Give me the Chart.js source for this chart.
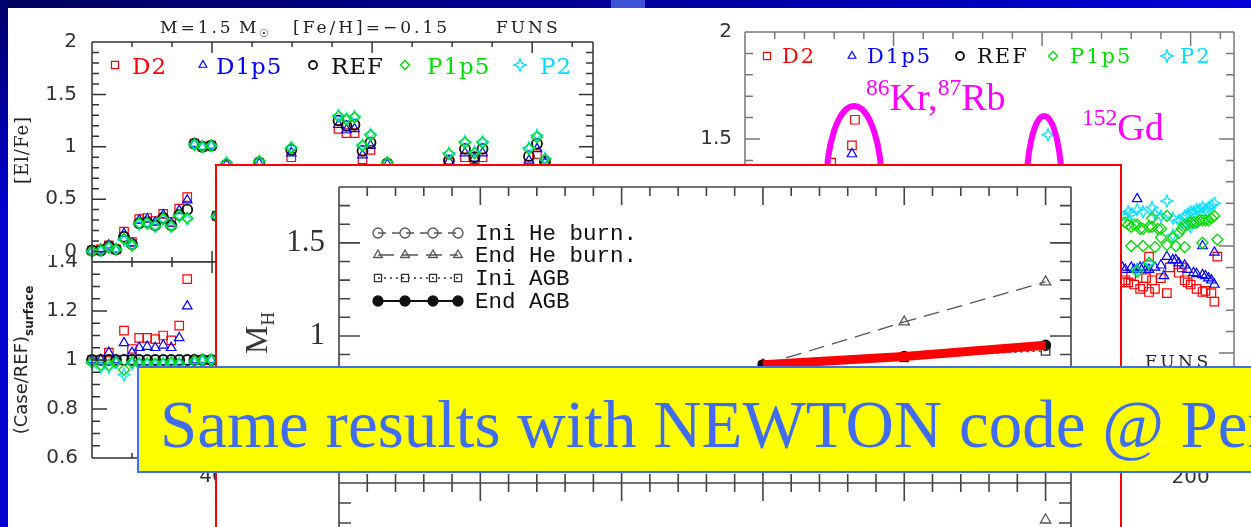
<!DOCTYPE html>
<html>
<head>
<meta charset="utf-8">
<title>FUNS vs NEWTON</title>
<script src="https://cdn.jsdelivr.net/npm/chart.js@4.4.1/dist/chart.umd.min.js"></script>
<style>
  html, body { margin: 0; padding: 0; }
  body {
    position: relative;
    width: 1251px;
    height: 527px;
    overflow: hidden;
    background: #fff;
  }
  canvas, .txt, .inset, .banner, .bar { position: absolute; }
  .txt { white-space: nowrap; line-height: 1; margin: 0; }
  .serif { font-family: 'DejaVu Serif', serif; }
  .sans { font-family: 'DejaVu Sans', sans-serif; }
  .ttl { font-family: 'DejaVu Serif', serif; font-size: 17px; letter-spacing: 3px; color: #222; top: 19px; }
  .legL { font-family: 'DejaVu Serif', serif; font-size: 23px; letter-spacing: 1px; top: 55px; }
  .legR { font-family: 'DejaVu Serif', serif; font-size: 21px; letter-spacing: 2px; top: 46px; }
  .red { color: #ff0000; } .blue { color: #0000ff; } .black { color: #111; }
  .green { color: #00dd00; } .cyan { color: #00dcff; }
  .rot { transform: translate(-50%, -50%) rotate(-90deg); }
  .lo { position: relative; top: 6px; }
  .hi { position: relative; top: -0.62em; font-size: 0.62em; }
  .mag { font-family: 'Liberation Serif', serif; font-size: 38px; color: #ff00ff; }
  .key { font-family: 'Liberation Mono', monospace; font-size: 22.5px; color: #111; left: 475px; }
  .inset { left: 215px; top: 164px; width: 903px; height: 400px; background: #fff; border: 2px solid #ff0000; }
  .banner { left: 137px; top: 366px; width: 1200px; height: 103px; background: #ffff00; border: 2px solid #3d6df2; overflow: hidden; }
  .banner span {
    position: absolute; left: 21px; top: 23px; line-height: 1; white-space: nowrap;
    font-family: 'Liberation Serif', serif; font-size: 67px; color: #3f6cf3;
  }
  .bar-top { left: 0; top: 0; width: 1251px; height: 8px; background: linear-gradient(to right, #00005e, #0000d8); }
  .bar-left { left: 0; top: 0; width: 8px; height: 527px; background: linear-gradient(to bottom, #00006a, #0000d0 40%, #0000d0); }
  .tab { left: 611px; top: 0; width: 34px; height: 8px; background: #3f55d8; }
</style>
</head>
<body>

<canvas id="elfe" width="600" height="262" style="left:0;top:0"></canvas>
<canvas id="ratio" width="600" height="240" style="left:0;top:255px"></canvas>
<canvas id="right" width="571" height="500" style="left:680px;top:0"></canvas>

<div class="txt ttl" style="left:160px">M=1.5</div>
<div class="txt ttl" style="left:239px">M<span style="font-size:11px;position:relative;top:4px;letter-spacing:0">☉</span></div>
<div class="txt ttl" style="left:293px">[Fe/H]=−0.15</div>
<div class="txt ttl" style="left:496px">FUNS</div>
<div class="txt legL red" style="left:132px">D2</div>
<div class="txt legL blue" style="left:216px">D1p5</div>
<div class="txt legL black" style="left:331px">REF</div>
<div class="txt legL green" style="left:427px">P1p5</div>
<div class="txt legL cyan" style="left:540px">P2</div>
<div class="txt serif rot" style="left:22px;top:150px;font-size:18px;letter-spacing:1px;color:#222">[El/Fe]</div>
<div class="txt sans rot" style="left:21px;top:360px;font-size:18px;color:#222">(Case/REF)<span class="lo" style="font-size:12px;font-weight:bold">surface</span></div>

<div class="txt legR red" style="left:782px">D2</div>
<div class="txt legR blue" style="left:867px">D1p5</div>
<div class="txt legR black" style="left:977px">REF</div>
<div class="txt legR green" style="left:1070px">P1p5</div>
<div class="txt legR cyan" style="left:1180px">P2</div>
<div class="txt mag" style="left:866px;top:78px"><span class="hi">86</span>Kr,<span class="hi">87</span>Rb</div>
<div class="txt mag" style="left:1082px;top:108px"><span class="hi">152</span>Gd</div>
<div class="txt serif" style="left:1145px;top:353px;font-size:17px;letter-spacing:3.5px;color:#222">FUNS</div>

<div class="inset"></div>
<canvas id="mh" width="906" height="319" style="left:215px;top:164px"></canvas>
<canvas id="mhLow" width="906" height="250" style="left:215px;top:483px"></canvas>
<div class="txt key" style="top:223px">Ini He burn.</div>
<div class="txt key" style="top:245px">End He burn.</div>
<div class="txt key" style="top:268px">Ini AGB</div>
<div class="txt key" style="top:291px">End AGB</div>
<div class="txt rot" style="left:256px;top:333px;font-family:'Liberation Serif',serif;font-size:32px;color:#333">M<span style="font-size:19px;position:relative;top:7px">H</span></div>

<div class="banner"><span>Same results with NEWTON code @ Perugia</span></div>

<div class="bar bar-top"></div>
<div class="bar bar-left"></div>
<div class="bar tab"></div>

<script>
// [El/Fe] at the surface, left upper panel (mass number A)
const massTop = [25, 26.1, 27.1, 28, 29, 30, 30.9, 31.9, 32.9, 33.9, 34.9, 35.9, 36.9, 37.8, 38.8,
  39.9, 40.6, 41.8, 45.9, 49.9, 55.8, 56.8, 57.8, 58.8, 59.8, 61.9, 69.6, 71.6, 72.8, 73.8, 79.6, 80.6, 81.6];
const topD2 = [0.01, 0.02, 0.06, 0.02, 0.19, 0.09, 0.31, 0.32, 0.29, 0.36, 0.28, 0.41, 0.52, 1.03, 1.00,
  1.01, 0.34, 0.82, 0.84, 0.90, 1.17, 1.13, 1.13, 0.88, 0.97, 0.83, 0.85, 0.90, 0.88, 0.90, 0.83, 0.93, 0.84];
const topD1p5 = [0.01, 0.02, 0.06, 0.02, 0.17, 0.08, 0.30, 0.31, 0.28, 0.35, 0.27, 0.39, 0.49, 1.03, 1.00,
  1.01, 0.34, 0.83, 0.84, 0.94, 1.21, 1.16, 1.17, 0.92, 1.01, 0.83, 0.86, 0.94, 0.89, 0.94, 0.87, 0.98, 0.85];
const topREF = [0.01, 0.01, 0.05, 0.02, 0.14, 0.07, 0.27, 0.28, 0.25, 0.32, 0.25, 0.35, 0.40, 1.03, 1.00,
  1.01, 0.34, 0.83, 0.85, 0.97, 1.25, 1.20, 1.21, 0.96, 1.04, 0.84, 0.87, 0.98, 0.90, 0.98, 0.91, 1.03, 0.86];
const topP1p5 = [0.00, 0.01, 0.04, 0.02, 0.12, 0.06, 0.27, 0.27, 0.24, 0.31, 0.24, 0.34, 0.32, 1.02, 1.00,
  1.01, 0.34, 0.84, 0.86, 0.99, 1.29, 1.26, 1.28, 1.01, 1.11, 0.85, 0.93, 1.04, 0.94, 1.04, 0.98, 1.09, 0.88];
const topP2 = [0.00, 0.01, 0.04, 0.02, 0.11, 0.06, 0.26, 0.27, 0.24, 0.31, 0.24, 0.34, 0.31, 1.02, 1.00,
  1.01, 0.33, 0.85, 0.86, 0.99, 1.30, 1.27, 1.29, 1.02, 1.12, 0.85, 0.94, 1.05, 0.95, 1.05, 0.99, 1.11, 0.89];

// (Case/REF) surface ratios, left lower panel
const massLow = [25, 26.1, 27.1, 28, 29, 30, 30.9, 31.9, 32.9, 33.9, 34.9, 35.9, 36.9, 37.8, 38.8, 39.9];
const lowD2 = [1.00, 1.00, 1.03, 1.00, 1.12, 1.045, 1.09, 1.09, 1.085, 1.10, 1.08, 1.14, 1.33, 1.00, 1.00, 1.00];
const lowD1p5 = [1.00, 1.00, 1.03, 1.00, 1.07, 1.03, 1.05, 1.055, 1.05, 1.06, 1.05, 1.09, 1.22, 1.00, 1.00, 1.00];
const lowREF = [1, 1, 1, 1, 1, 1, 1, 1, 1, 1, 1, 1, 1, 1, 1, 1];
const lowP1p5 = [0.99, 0.98, 0.98, 0.99, 0.96, 0.99, 0.985, 0.985, 0.985, 0.985, 0.99, 0.985, 0.84, 0.995, 1.00, 1.00];
const lowP2 = [0.99, 0.97, 0.97, 0.99, 0.94, 0.985, 0.985, 0.985, 0.98, 0.985, 0.985, 0.985, 0.83, 0.99, 1.00, 1.00];

// right panel, ratios over the whole s-process range
const rightMassD2 = [79, 86, 87, 177, 178, 179, 180, 181, 183, 184, 185, 186, 187, 188, 190, 192, 193, 196, 197,
  198, 199, 200, 202, 204, 205, 207, 208, 186, 209];
const rightD2 = [1.39, 1.47, 1.59, 0.83, 0.84, 0.83, 0.865, 0.82, 0.80, 0.81, 0.85, 0.785, 0.84, 0.80, 0.85, 0.78,
  0.90, 0.875, 0.90, 0.84, 0.83, 0.82, 0.80, 0.785, 0.79, 0.78, 0.74, 0.95, 0.95];
const rightMassD1p5 = [86, 177, 178, 180, 181, 182, 183, 184, 185, 186, 188, 190, 191, 192, 194, 195, 196, 198,
  199, 201, 202, 204, 205, 206, 207, 208, 182, 204, 208];
const rightD1p5 = [1.43, 0.90, 0.89, 0.90, 0.89, 0.89, 0.90, 0.90, 0.89, 0.89, 0.90, 0.91, 0.86, 0.95, 0.935,
  0.935, 0.92, 0.91, 0.89, 0.875, 0.87, 0.865, 0.86, 0.85, 0.84, 0.82, 1.22, 1.0, 0.97];
const rightMassP1p5 = [178, 179, 180, 181, 182, 183, 184, 186, 187, 187, 189, 190, 190, 192, 194, 196, 197, 198,
  199, 200, 201, 202, 203, 204, 205, 206, 207, 208, 180, 184, 188, 192, 195, 198, 204, 209, 182, 186];
const rightP1p5 = [1.11, 1.10, 1.09, 1.10, 1.10, 1.08, 1.08, 1.09, 1.09, 1.13, 1.08, 1.08, 1.04, 1.14, 1.04, 1.06,
  1.08, 1.10, 1.10, 1.11, 1.11, 1.11, 1.12, 1.12, 1.12, 1.12, 1.13, 1.14, 1.0, 1.0, 0.995, 1.005, 1.0, 0.995,
  1.015, 1.03, 0.88, 0.92];
const rightMassP2 = [152, 178, 179, 180, 182, 184, 187, 188, 190, 192, 194, 194, 196, 197, 198, 199, 200, 200,
  201, 202, 203, 204, 205, 206, 207, 208, 182, 186];
const rightP2 = [1.52, 1.14, 1.16, 1.15, 1.17, 1.16, 1.18, 1.15, 1.14, 1.21, 1.13, 1.05, 1.12, 1.11, 1.14, 1.15,
  1.16, 1.09, 1.16, 1.17, 1.17, 1.18, 1.17, 1.18, 1.19, 1.20, 0.89, 0.92];

// inset: hydrogen-exhausted core mass vs initial mass
const initialMass = [2, 2.5, 3];
const iniHeBurn = []; // below the banner, nothing visible
const endHeBurn = [0.844, 1.075, 1.29];
const iniAGB = [0.84, 0.885, 0.92];
const endAGB = [0.845, 0.89, 0.95];
const lowerMass = [3];
const lowerEndHe = [0.815];

const RED = '#ff0000', BLUE = '#0000ff', BLACK = '#111111', GREEN = '#00dd00', CYAN = '#00dcff';

const pts = (xs, ys) => ys.map((y, i) => ({ x: xs[i], y }));

// four pointed open star, Chart.js has no such marker
function starMark(color, r) {
  const c = document.createElement('canvas');
  c.width = c.height = 2 * r + 4;
  const g = c.getContext('2d');
  const m = r + 2, k = r * 0.3;
  g.strokeStyle = color;
  g.lineWidth = 1.3;
  g.beginPath();
  g.moveTo(m, m - r);
  g.lineTo(m + k, m - k);
  g.lineTo(m + r, m);
  g.lineTo(m + k, m + k);
  g.lineTo(m, m + r);
  g.lineTo(m - k, m + k);
  g.lineTo(m - r, m);
  g.lineTo(m - k, m - k);
  g.closePath();
  g.stroke();
  return c;
}

const cases = [
  { label: 'D2', color: RED, style: 'rect', radius: 6, width: 1.2, order: 5 },
  { label: 'D1p5', color: BLUE, style: 'triangle', radius: 5.5, width: 1.2, order: 4 },
  { label: 'REF', color: BLACK, style: 'circle', radius: 5, width: 1.8, order: 3 },
  { label: 'P1p5', color: GREEN, style: 'rectRot', radius: 5.5, width: 1.3, order: 1 },
  { label: 'P2', color: CYAN, style: starMark(CYAN, 6), radius: 6, width: 1.2, order: 2 },
];

function caseSets(dataList) {
  return cases.map((s, i) => ({
    label: s.label,
    data: dataList[i],
    order: s.order,
    pointStyle: s.style,
    pointRadius: s.radius,
    borderColor: s.color,
    backgroundColor: 'rgba(0,0,0,0)',
    pointBorderWidth: s.width,
    borderWidth: s.width,
    showLine: false,
    clip: false,
  }));
}

// box with inward ticks on the chosen sides, taken from the scales
const framePlugin = {
  id: 'frame',
  afterDatasetsDraw(chart, args, opts) {
    if (!opts.color) return;
    const { ctx, chartArea: a, scales } = chart;
    const sides = opts.sides || ['left', 'right', 'top', 'bottom'];
    ctx.save();
    ctx.strokeStyle = opts.color;
    ctx.lineWidth = opts.width;
    ctx.beginPath();
    if (sides.includes('top')) { ctx.moveTo(a.left, a.top); ctx.lineTo(a.right, a.top); }
    if (sides.includes('bottom')) { ctx.moveTo(a.left, a.bottom); ctx.lineTo(a.right, a.bottom); }
    if (sides.includes('left')) { ctx.moveTo(a.left, a.top); ctx.lineTo(a.left, a.bottom); }
    if (sides.includes('right')) { ctx.moveTo(a.right, a.top); ctx.lineTo(a.right, a.bottom); }

    const marks = (scale, t, horizontal) => {
      const first = Math.ceil(scale.min / t.minor - 1e-6);
      const last = Math.floor(scale.max / t.minor + 1e-6);
      for (let i = first; i <= last; i++) {
        const v = i * t.minor;
        const major = Math.abs(v / t.major - Math.round(v / t.major)) < 1e-6;
        const len = major ? t.majorLen : t.minorLen;
        const p = scale.getPixelForValue(v);
        if (horizontal) {
          if (sides.includes('top')) { ctx.moveTo(p, a.top); ctx.lineTo(p, a.top + len); }
          if (sides.includes('bottom')) { ctx.moveTo(p, a.bottom); ctx.lineTo(p, a.bottom - len); }
        } else {
          if (sides.includes('left')) { ctx.moveTo(a.left, p); ctx.lineTo(a.left + len, p); }
          if (sides.includes('right')) { ctx.moveTo(a.right, p); ctx.lineTo(a.right - len, p); }
        }
      }
    };
    marks(scales.x, opts.x, true);
    marks(scales.y, opts.y, false);
    ctx.stroke();
    ctx.restore();
  },
};

// legend symbols drawn with the datasets' own styles; the words are html
const keyPlugin = {
  id: 'key',
  afterDraw(chart, args, opts) {
    if (!opts.rows || !Chart.helpers || !Chart.helpers.drawPoint) return;
    const { ctx, chartArea: a } = chart;
    opts.rows.forEach(row => {
      const ds = chart.data.datasets[row.dataset];
      const y = a.top + row.y;
      ctx.save();
      if (row.line) {
        ctx.strokeStyle = ds.borderColor;
        ctx.lineWidth = ds.borderWidth;
        ctx.setLineDash(ds.borderDash || []);
        ctx.beginPath();
        ctx.moveTo(a.left + row.x[0], y);
        ctx.lineTo(a.left + row.x[row.x.length - 1], y);
        ctx.stroke();
        ctx.setLineDash([]);
      }
      ctx.strokeStyle = ds.pointBorderColor || ds.borderColor;
      ctx.fillStyle = ds.pointBackgroundColor || 'rgba(0,0,0,0)';
      ctx.lineWidth = ds.pointBorderWidth || ds.borderWidth;
      row.x.forEach(x => {
        Chart.helpers.drawPoint(ctx, {
          pointStyle: ds.pointStyle,
          radius: row.radius || ds.pointRadius,
          borderWidth: ctx.lineWidth,
          rotation: 0,
        }, a.left + x, y);
      });
      ctx.restore();
    });
  },
};

// magenta rings around the highlighted isotopes
const ringPlugin = {
  id: 'rings',
  afterDatasetsDraw(chart, args, opts) {
    if (!opts.items) return;
    const { ctx, scales: { x, y } } = chart;
    ctx.save();
    ctx.strokeStyle = opts.color;
    ctx.lineWidth = opts.width;
    opts.items.forEach(r => {
      ctx.beginPath();
      ctx.ellipse(x.getPixelForValue(r.x), y.getPixelForValue(r.y), r.rx, r.ry, 0, 0, 2 * Math.PI);
      ctx.stroke();
    });
    ctx.restore();
  },
};

const sansTicks = { family: "'DejaVu Sans', sans-serif", size: 20 };
const serifTicks = { family: "'Liberation Serif', serif", size: 31 };
const plainNumber = v => String(Math.round(v * 100) / 100);

// the label overhang padding would shrink the plot box, the frames are fixed instead
function noOverhang(s) {
  s.paddingTop = 0;
  s.paddingBottom = 0;
  s.paddingLeft = 0;
  s.paddingRight = 0;
}

function yAxis(min, max, step, width, pad, font) {
  return {
    type: 'linear', min, max,
    afterFit: s => { s.width = width; noOverhang(s); },
    grid: { display: false, drawTicks: false },
    border: { display: false },
    ticks: { stepSize: step, includeBounds: false, padding: pad, font, color: '#333', autoSkip: false, callback: plainNumber },
  };
}

function xAxis(min, max, step, height, pad, font) {
  if (!step) return { type: 'linear', min, max, display: false };
  return {
    type: 'linear', min, max,
    afterFit: s => { s.height = height; noOverhang(s); },
    grid: { display: false, drawTicks: false },
    border: { display: false },
    ticks: { stepSize: step, includeBounds: false, padding: pad, font, color: '#333', autoSkip: false, maxRotation: 0, callback: plainNumber },
  };
}

function hiddenY(min, max) {
  return { type: 'linear', min, max, display: false };
}

function makeChart(id, datasets, cfg) {
  return new Chart(document.getElementById(id), {
    type: 'scatter',
    data: { datasets },
    options: {
      responsive: false,
      animation: false,
      events: [],
      layout: { padding: cfg.padding, autoPadding: false },
      scales: { x: cfg.x, y: cfg.y },
      plugins: {
        legend: { display: false },
        tooltip: { enabled: false },
        frame: cfg.frame,
        key: cfg.key || {},
        rings: cfg.rings || {},
      },
    },
    plugins: [framePlugin, keyPlugin, ringPlugin],
  });
}

const leftKey = [23, 111, 221, 313, 428];
const rightKey = [22, 107, 215, 308, 422];
const keySizes = [5, 4.5, 4, 4.5, 5];

// left upper panel
makeChart('elfe', caseSets([
  pts(massTop, topD2), pts(massTop, topD1p5), pts(massTop, topREF), pts(massTop, topP1p5), pts(massTop, topP2),
]), {
  padding: { top: 42, right: 7, left: 0, bottom: 0 },
  x: xAxis(25, 87.6),
  y: yAxis(-0.1, 2, 0.5, 92, 15, sansTicks),
  frame: {
    color: '#333', width: 1.5,
    x: { minor: 5, major: 20, minorLen: 5, majorLen: 11 },
    y: { minor: 0.1, major: 0.5, minorLen: 7, majorLen: 14 },
  },
  key: { rows: leftKey.map((x, i) => ({ dataset: i, x: [x], y: 23, radius: keySizes[i] })) },
});

// left lower panel
makeChart('ratio', caseSets([
  pts(massLow, lowD2), pts(massLow, lowD1p5), pts(massLow, lowREF), pts(massLow, lowP1p5), pts(massLow, lowP2),
]), {
  padding: { top: 7, right: 7, left: 0, bottom: 0 },
  x: xAxis(25, 87.6, 20, 37, 7, sansTicks),
  y: yAxis(0.6, 1.4, 0.2, 92, 14, sansTicks),
  frame: {
    color: '#333', width: 1.5,
    x: { minor: 5, major: 20, minorLen: 5, majorLen: 11 },
    y: { minor: 0.05, major: 0.2, minorLen: 8, majorLen: 15 },
  },
});

// right panel
makeChart('right', caseSets([
  pts(rightMassD2, rightD2), pts(rightMassD1p5, rightD1p5), [], pts(rightMassP1p5, rightP1p5), pts(rightMassP2, rightP2),
]), {
  padding: { top: 32, right: 17, left: 0, bottom: 0 },
  x: xAxis(50, 214.6, 50, 40, 6, sansTicks),
  y: yAxis(0, 2, 0.5, 65, 13, sansTicks),
  frame: {
    color: '#777', width: 1.5,
    x: { minor: 10, major: 50, minorLen: 7, majorLen: 14 },
    y: { minor: 0.1, major: 0.5, minorLen: 8, majorLen: 15 },
  },
  key: { rows: rightKey.map((x, i) => ({ dataset: i, x: [x], y: 24, radius: keySizes[i] })) },
  rings: {
    color: '#ff00ff', width: 6,
    items: [
      { x: 86.7, y: 1.262, rx: 28, ry: 84 },
      { x: 150.7, y: 1.238, rx: 18, ry: 79 },
    ],
  },
});

// inset, upper panel
const GREY = '#555555';
const mhSets = [
  { label: 'Ini He burn.', data: pts(initialMass, iniHeBurn), showLine: true, borderColor: GREY, borderWidth: 1.3,
    borderDash: [8, 6], pointStyle: 'circle', pointRadius: 5, backgroundColor: 'rgba(0,0,0,0)', pointBorderWidth: 1.3, order: 4 },
  { label: 'End He burn.', data: pts(initialMass, endHeBurn), showLine: true, borderColor: GREY, borderWidth: 1.3,
    borderDash: [16, 8], pointStyle: 'triangle', pointRadius: 6, backgroundColor: 'rgba(0,0,0,0)', pointBorderWidth: 1.3, order: 3 },
  { label: 'Ini AGB', data: pts(initialMass, iniAGB), showLine: true, borderColor: '#333', borderWidth: 1.3,
    borderDash: [2, 4], pointStyle: 'rect', pointRadius: 6, backgroundColor: 'rgba(0,0,0,0)', pointBorderWidth: 1.3, order: 2 },
  { label: 'End AGB', data: pts(initialMass, endAGB), showLine: true, borderColor: BLACK, borderWidth: 2,
    pointStyle: 'circle', pointRadius: 5, backgroundColor: BLACK, pointBackgroundColor: BLACK, pointBorderWidth: 1.3, order: 1 },
  { label: 'highlight', data: pts(initialMass, endAGB), showLine: true, borderColor: RED, borderWidth: 9,
    borderCapStyle: 'butt', pointRadius: 0, order: 0 },
];
const keyX = [39, 66, 94, 119];
makeChart('mh', mhSets, {
  padding: { top: 23, right: 50, left: 0, bottom: 0 },
  x: xAxis(0.5, 3.09),
  y: yAxis(0.21, 1.8, 0.5, 124, 14, serifTicks),
  frame: {
    color: '#444', width: 1.6,
    x: { minor: 0.1, major: 0.5, minorLen: 9, majorLen: 18 },
    y: { minor: 0.1, major: 0.5, minorLen: 11, majorLen: 21 },
  },
  key: {
    rows: [
      { dataset: 0, x: keyX, y: 46, line: true },
      { dataset: 1, x: keyX, y: 68, line: true, radius: 5 },
      { dataset: 2, x: keyX, y: 91, line: true, radius: 5 },
      { dataset: 3, x: keyX, y: 114, line: true },
    ],
  },
});

// inset, lower panel (only its top edge shows)
makeChart('mhLow', [
  { label: 'End He burn.', data: pts(lowerMass, lowerEndHe), showLine: false, borderColor: GREY, borderWidth: 1.3,
    pointStyle: 'triangle', pointRadius: 6, backgroundColor: 'rgba(0,0,0,0)', pointBorderWidth: 1.3 },
], {
  padding: { top: 0, right: 50, left: 124, bottom: 50 },
  x: xAxis(0.5, 3.09),
  y: hiddenY(0, 1),
  frame: {
    color: '#444', width: 1.6,
    x: { minor: 0.1, major: 0.5, minorLen: 9, majorLen: 18 },
    y: { minor: 0.1, major: 0.5, minorLen: 12, majorLen: 22 },
  },
});
</script>
</body>
</html>
